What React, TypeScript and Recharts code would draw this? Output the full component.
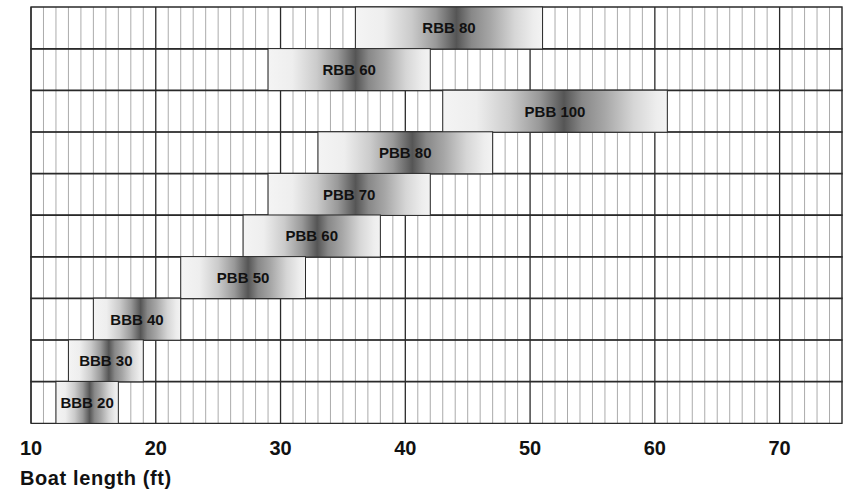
import { BarChart, Bar, XAxis, YAxis, CartesianGrid, LabelList } from 'recharts'

const models = ['RBB 80', 'RBB 60', 'PBB 100', 'PBB 80', 'PBB 70', 'PBB 60', 'PBB 50', 'BBB 40', 'BBB 30', 'BBB 20']
const minLength = [36, 29, 43, 33, 29, 27, 22, 15, 13, 12]
const maxLength = [51, 42, 61, 47, 42, 38, 32, 22, 19, 17]
// one grid line per foot, labelled every 10 ft
const footTicks = Array.from({ length: 66 }, (_, i) => 10 + i)

const rows = models.map((name, i) => ({ name, range: [minLength[i], maxLength[i]] }))

const font = '"Liberation Sans", Arial, sans-serif'

function GradientBar(props: any) {
  const { x, y, width, height } = props
  return (
    <rect
      x={x}
      y={y}
      width={width}
      height={height}
      fill="url(#barShade)"
      stroke="#2a2a2a"
      strokeWidth={1}
    />
  )
}

function GridLine(props: any) {
  const { x1, y1, x2, y2, index } = props
  const major = index % 10 === 0
  return (
    <line
      x1={x1}
      y1={y1}
      x2={x2}
      y2={y2}
      stroke={major ? '#2a2a2a' : '#ababab'}
      strokeWidth={major ? 1.3 : 1}
    />
  )
}

export default function App() {
  return (
    <div style={{ position: 'absolute', left: 0, top: 0, background: '#fff' }}>
      <BarChart
        width={847}
        height={495}
        data={rows}
        layout="vertical"
        barCategoryGap={0}
        margin={{ top: 7, right: 5, bottom: 42, left: 31 }}
      >
        <defs>
          <linearGradient id="barShade" x1="0" y1="0" x2="1" y2="0">
            <stop offset="0%" stopColor="#f4f4f4" />
            <stop offset="15%" stopColor="#eeeeee" />
            <stop offset="30%" stopColor="#cbcbcb" />
            <stop offset="43%" stopColor="#999999" />
            <stop offset="54%" stopColor="#555555" />
            <stop offset="62%" stopColor="#888888" />
            <stop offset="72%" stopColor="#a6a6a6" />
            <stop offset="85%" stopColor="#d6d6d6" />
            <stop offset="95%" stopColor="#ededed" />
            <stop offset="100%" stopColor="#f3f3f3" />
          </linearGradient>
        </defs>
        <CartesianGrid vertical={GridLine} horizontal={false} />
        <XAxis
          type="number"
          domain={[10, 75]}
          ticks={footTicks}
          interval={0}
          height={30}
          axisLine={false}
          tickLine={false}
          tickSize={0}
          tickMargin={18}
          tickFormatter={(v: number) => (v % 10 === 0 ? String(v) : '')}
          tick={{ fontFamily: font, fontSize: 20, fontWeight: 'bold', fill: '#111' }}
          label={() => (
            <text
              x={20}
              y={485}
              fontFamily={font}
              fontSize={20}
              fontWeight="bold"
              letterSpacing={0.6}
              fill="#111"
            >
              Boat length (ft)
            </text>
          )}
        />
        <YAxis type="category" dataKey="name" hide />
        <Bar
          dataKey="range"
          shape={GradientBar}
          background={{ fill: 'none', stroke: '#2a2a2a', strokeWidth: 1.3 }}
          isAnimationActive={false}
        >
          <LabelList
            dataKey="name"
            position="center"
            fill="#111"
            fontFamily={font}
            fontSize={15}
            fontWeight="bold"
          />
        </Bar>
      </BarChart>
    </div>
  )
}
